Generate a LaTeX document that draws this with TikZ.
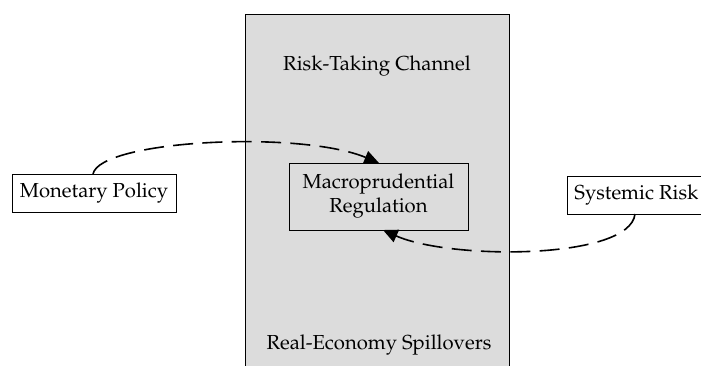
\documentclass[tikz,border=0pt]{standalone}
\usepackage[T1]{fontenc}
\usepackage{mathpazo}
\usetikzlibrary{arrows.meta}
\begin{document}
\begin{tikzpicture}[x=0.75pt,y=-0.75pt,
  txt/.style={font=\fontsize{15.2}{18}\selectfont},
  boxed/.style={txt,draw=black,line width=0.6pt,inner sep=0pt,align=center},
  conn/.style={line width=1.2pt,dash pattern=on 15pt off 7pt,-{Triangle[length=11pt,width=10pt]}}]
\useasboundingbox (0,0) rectangle (701,365);
\begin{scope}
\clip (0,0) rectangle (701,365);
\fill[fill={rgb,255:red,220;green,220;blue,220},draw=black,line width=0.6pt] (245,14) rectangle (509,380);
\node[txt] (rtc) at (377,66) {Risk-Taking Channel};
\node[txt] (res) at (379,345) {Real-Economy Spillovers};
\node[boxed,minimum width=179*0.75pt,minimum height=67*0.75pt] (mr) at (378.5,196.5) {Macroprudential\\Regulation};
\node[boxed,minimum width=164*0.75pt,minimum height=38*0.75pt] (mp) at (94,193) {Monetary Policy};
\node[boxed,minimum width=138*0.75pt,minimum height=38*0.75pt,anchor=west] (sr) at (567,195) {Systemic Risk};
\coordinate (mptop) at (93,174);
\coordinate (srbot) at (635,214);
\coordinate (mrtop) at (379,163);
\coordinate (mrbot) at (383,230);
\draw[conn] (mptop) .. controls (100,140) and (300,130) .. (mrtop);
\draw[conn] (srbot) .. controls (630,260) and (450,260) .. (mrbot);
\end{scope}
\end{tikzpicture}
\end{document}
